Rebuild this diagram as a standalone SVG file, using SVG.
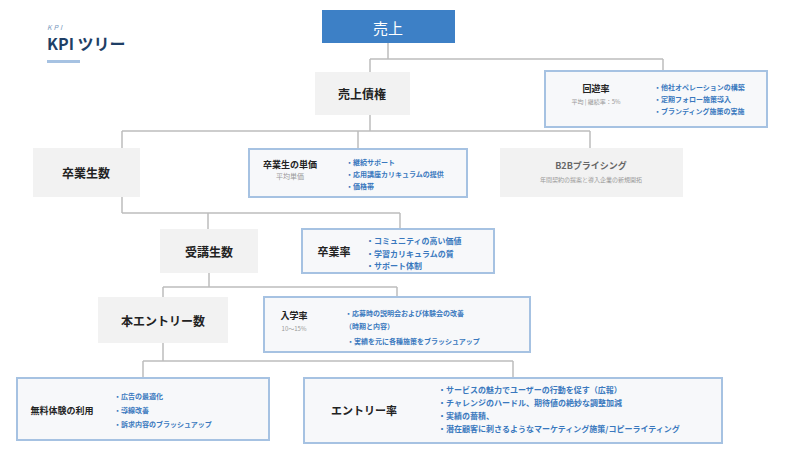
<svg xmlns="http://www.w3.org/2000/svg" width="800" height="450" viewBox="0 0 800 450">
<style>
text{font-family:"Noto Sans CJK JP","Noto Sans",sans-serif}
.g{fill:#f2f2f2}
.b{fill:#f7f8fa;stroke:#a6c2e2;stroke-width:2}
.t{font-size:12px;font-weight:bold;fill:#222;text-anchor:middle;dominant-baseline:central}
.l{font-size:8px;font-weight:bold;fill:#3a78be}
.s{font-size:7px;fill:#999;text-anchor:middle}
.c{fill:none;stroke:#bdbdbd;stroke-width:1.5}
</style>
<rect width="800" height="450" fill="#fff"/>
<text x="47" y="30" font-size="7" font-style="italic" fill="#7a99bd" letter-spacing="2">KPI</text>
<text x="47" y="50" font-size="16" font-weight="bold" fill="#1f3f66">KPI ツリー</text>
<rect x="47" y="60" width="33" height="3" fill="#a6c2e2"/>
<g id="connectors" class="c">
<path d="M388 43V59M370 59H663M370 59V72M663 59V71"/>
<path d="M370 114V131M122 131H590M122 131V148M358 131V148M590 131V148"/>
<path d="M122 197V213M122 213H400M208 213V229M400 213V229"/>
<path d="M209 273V287M163 287H397M163 287V297M397 287V297"/>
<path d="M163 343V361M143 361H513M143 361V378M513 361V378"/>
</g>
<g id="n1"><rect x="322" y="10" width="133" height="33" fill="#3d80c6"/><text class="t" x="388" y="27" style="fill:#fff;font-weight:normal;font-size:15px">売上</text></g>
<g id="n2"><rect class="g" x="315" y="72" width="95" height="43"/><text class="t" x="362" y="93">売上債権</text></g>
<g id="n3"><rect class="b" x="545" y="71" width="222" height="56"/><text class="t" x="596" y="88" style="font-size:9px">回遊率</text><text class="s" x="596" y="104" style="font-size:6px">平均 | 継続率：5%</text><text class="l" x="654" y="90" style="font-size:7px">・他社オペレーションの構築</text><text class="l" x="654" y="102" style="font-size:7px">・定期フォロー施策導入</text><text class="l" x="654" y="114" style="font-size:7px">・ブランディング施策の実施</text></g>
<g id="n4"><rect class="g" x="33" y="148" width="107" height="49"/><text class="t" x="86" y="172">卒業生数</text></g>
<g id="n5"><rect class="b" x="249" y="149" width="218" height="48"/><text class="t" x="290" y="164" style="font-size:9px">卒業生の単価</text><text class="s" x="290" y="179">平均単価</text><text class="l" x="346" y="165" style="font-size:7px">・継続サポート</text><text class="l" x="346" y="177" style="font-size:7px">・応用講座カリキュラムの提供</text><text class="l" x="346" y="189" style="font-size:7px">・価格帯</text></g>
<g id="n6"><rect class="g" x="500" y="148" width="183" height="49"/><text class="t" x="591" y="165" style="font-size:9px;fill:#666">B2Bプライシング</text><text class="s" x="591" y="182" style="font-size:6px">年間契約の提案と導入企業の新規開拓</text></g>
<g id="n7"><rect class="g" x="160" y="229" width="98" height="44"/><text class="t" x="209" y="251">受講生数</text></g>
<g id="n8"><rect class="b" x="302" y="229" width="192" height="44"/><text class="t" x="334" y="251" style="font-size:11px">卒業率</text><text class="l" x="366" y="244">・コミュニティの高い価値</text><text class="l" x="366" y="257">・学習カリキュラムの質</text><text class="l" x="366" y="269">・サポート体制</text></g>
<g id="n9"><rect class="g" x="98" y="297" width="130" height="46"/><text class="t" x="163" y="320">本エントリー数</text></g>
<g id="n10"><rect class="b" x="264" y="297" width="266" height="55"/><text class="t" x="294" y="315" style="font-size:9px">入学率</text><text class="s" x="294" y="331" style="font-size:6px">10〜15%</text><text class="l" x="345" y="316" style="font-size:7px">・応募時の説明会および体験会の改善</text><text class="l" x="345" y="329" style="font-size:7px">（時期と内容）</text><text class="l" x="347" y="344" style="font-size:7px">・実績を元に各種施策をブラッシュアップ</text></g>
<g id="n11"><rect class="b" x="17" y="378" width="252" height="62"/><text class="t" x="62" y="410" style="font-size:9px">無料体験の利用</text><text class="l" x="114" y="399" style="font-size:7px">・広告の最適化</text><text class="l" x="114" y="413" style="font-size:7px">・導線改善</text><text class="l" x="114" y="427" style="font-size:7px">・訴求内容のブラッシュアップ</text></g>
<g id="n12"><rect class="b" x="304" y="378" width="418" height="65"/><text class="t" x="364" y="410" style="font-size:11px">エントリー率</text><text class="l" x="438" y="393">・サービスの魅力でユーザーの行動を促す（広報）</text><text class="l" x="438" y="406">・チャレンジのハードル、期待値の絶妙な調整加減</text><text class="l" x="438" y="419">・実績の蓄積、</text><text class="l" x="438" y="432">・潜在顧客に刺さるようなマーケティング施策/コピーライティング</text></g>
</svg>
